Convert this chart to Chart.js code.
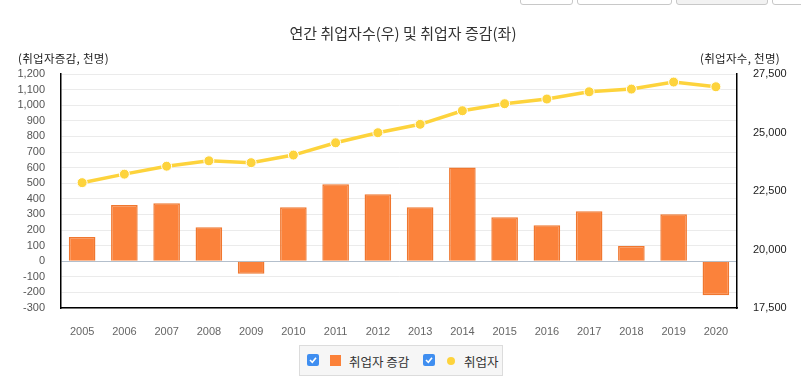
<!DOCTYPE html>
<html><head><meta charset="utf-8">
<script src="https://cdn.jsdelivr.net/npm/chart.js@4.4.0/dist/chart.umd.min.js"></script>
<style>
html,body{margin:0;padding:0;background:#fff;}
#wrap{position:relative;width:801px;height:383px;overflow:hidden;font-family:"Noto Sans CJK KR","Noto Sans",sans-serif;}
canvas{position:absolute;left:0;top:0;}
.btn{position:absolute;top:-10px;height:13px;border:1px solid #c8c8c8;border-radius:3px;background:#fff;}
.t{position:absolute;white-space:nowrap;color:#222;}
#legend{position:absolute;left:299px;top:345px;width:204px;height:31px;background:#f6f6f6;border:1px solid #dcdcdc;box-sizing:border-box;font-size:12.5px;color:#333;}
.cb{position:absolute;top:8px;width:12px;height:12px;border-radius:2px;background:#3f8ef0;}
.cb svg{position:absolute;left:1px;top:1px;}
</style></head>
<body><div id="wrap">
<div class="btn" style="left:520px;width:51px"></div>
<div class="btn" style="left:577px;width:93px"></div>
<div class="btn" style="left:676px;width:90px;background:#f2f2f2"></div>
<div class="btn" style="left:772px;width:60px"></div>
<canvas id="c" width="801" height="383"></canvas>
<div class="t" style="left:0;width:806px;text-align:center;top:22px;font-size:15px;color:#333">연간 취업자수(우) 및 취업자 증감(좌)</div>
<div class="t" style="left:18px;top:50px;font-size:11.5px;letter-spacing:0.3px">(취업자증감, 천명)</div>
<div class="t" style="left:700px;top:50px;font-size:11.5px;letter-spacing:0.3px">(취업자수, 천명)</div>
<div id="legend">
  <div class="cb" style="left:7px"><svg width="10" height="10"><path d="M2 5 L4.3 7.3 L8 2.8" stroke="#fff" stroke-width="1.6" fill="none"/></svg></div>
  <div style="position:absolute;left:30px;top:9px;width:11px;height:11px;background:#fb8139"></div>
  <div class="t" style="left:49px;top:6px;color:#333">취업자 증감</div>
  <div class="cb" style="left:123px"><svg width="10" height="10"><path d="M2 5 L4.3 7.3 L8 2.8" stroke="#fff" stroke-width="1.6" fill="none"/></svg></div>
  <div style="position:absolute;left:147px;top:11px;width:8px;height:8px;border-radius:50%;background:#fdd33c"></div>
  <div class="t" style="left:164px;top:6px;color:#333">취업자</div>
</div>
</div>
<script>
const years = ['2005','2006','2007','2008','2009','2010','2011','2012','2013','2014','2015','2016','2017','2018','2019','2020'];
const changeValues = [155, 360, 372, 218, -80, 346, 494, 429, 346, 600, 282, 231, 320, 97, 301, -218];
const employedValues = [22856, 23220, 23560, 23790, 23710, 24035, 24560, 24990, 25350, 25930, 26230, 26430, 26740, 26855, 27155, 26955];
const leftTicks = [-300,-200,-100,0,100,200,300,400,500,600,700,800,900,1000,1100,1200];
const rightTicks = [17500, 20000, 22500, 25000, 27500];

const tickFont = {family:'"Liberation Sans", Arial, sans-serif', size:11};
new Chart(document.getElementById('c'), {
  data: {
    labels: years,
    datasets: [
      {type:'line', label:'취업자', data: employedValues, yAxisID:'y1',
       borderColor:'#fdd33c', borderWidth:3.5, pointRadius:5, pointHoverRadius:5,
       pointBackgroundColor:'#fdd33c', pointBorderColor:'#ffffff', pointBorderWidth:1, tension:0},
      {type:'bar', label:'취업자 증감', data: changeValues, yAxisID:'y',
       backgroundColor:'#fb823b', borderColor:'#f0772f', borderWidth:1.5,
       barPercentage:0.63, categoryPercentage:1}
    ]
  },
  options: {
    responsive:false, animation:false,
    layout:{padding:{top:74,left:0,right:0,bottom:35}},
    plugins:{legend:{display:false}, title:{display:false}, tooltip:{enabled:false}},
    scales:{
      x:{grid:{display:false, drawTicks:false}, border:{display:true,color:'#000',width:1.5},
         ticks:{font:tickFont, color:'#666', padding:17, maxRotation:0, autoSkip:false},
         afterFit:s=>{s.height=40;}},
      y:{position:'left', min:-300, max:1200,
         afterBuildTicks:s=>{s.ticks=leftTicks.map(v=>({value:v}));},
         grid:{color:c=>c.tick && c.tick.value===0 ? '#b3bfcc' : '#ebebeb', lineWidth:1, drawTicks:false},
         border:{display:true,color:'#000',width:1.5},
         ticks:{font:tickFont, color:'#555', padding:16, autoSkip:false, callback:v=>v.toLocaleString('en-US')},
         afterFit:s=>{s.width=61;}},
      y1:{position:'right', min:17500, max:27500,
         afterBuildTicks:s=>{s.ticks=rightTicks.map(v=>({value:v}));},
         grid:{display:false, drawTicks:false},
         border:{display:true,color:'#000',width:1.5},
         ticks:{font:tickFont, color:'#222', padding:16, autoSkip:false, callback:v=>v.toLocaleString('en-US')},
         afterFit:s=>{s.width=64;}}
    }
  }
});
</script>
</body></html>
